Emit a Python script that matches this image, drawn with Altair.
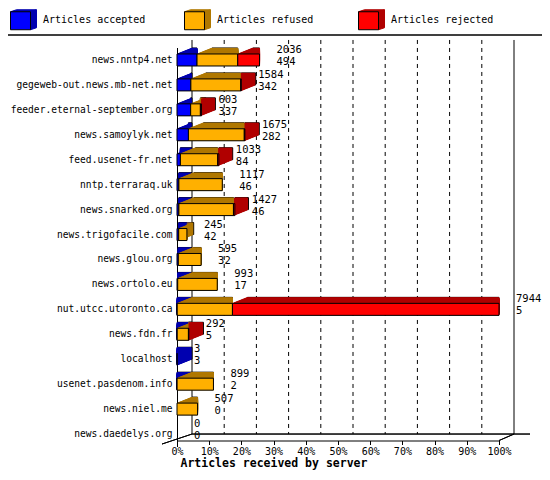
import altair as alt
import pandas as pd

servers = [
    "news.nntp4.net", "gegeweb-out.news.mb-net.net", "feeder.eternal-september.org",
    "news.samoylyk.net", "feed.usenet-fr.net", "nntp.terraraq.uk", "news.snarked.org",
    "news.trigofacile.com", "news.glou.org", "news.ortolo.eu", "nut.utcc.utoronto.ca",
    "news.fdn.fr", "localhost", "usenet.pasdenom.info", "news.niel.me", "news.daedelys.org",
]
total = [2036, 1584, 603, 1675, 1033, 1117, 1427, 245, 595, 993, 7944, 292, 3, 899, 507, 0]
accepted = [494, 342, 337, 282, 84, 46, 46, 42, 32, 17, 5, 5, 3, 2, 0, 0]
refused = [1005, 1230, 240, 1378, 920, 1071, 1347, 203, 563, 976, 1363, 277, 0, 897, 507, 0]
rejected = [537, 12, 26, 15, 29, 0, 34, 0, 0, 0, 6576, 10, 0, 0, 0, 0]

statuses = ["Articles accepted", "Articles refused", "Articles rejected"]
front_colors = ["#0000ff", "#ffb000", "#ff0000"]
dark_colors = ["#0000b0", "#b07800", "#b00000"]
tick_values = [0, 10, 20, 30, 40, 50, 60, 70, 80, 90, 100]

FONT = "DejaVu Sans Mono"
max_total = max(total)

rows = []
for i, s in enumerate(servers):
    start = 0
    for st, vals in zip(statuses, [accepted, refused, rejected]):
        v = vals[i]
        if v > 0:
            rows.append({"server": s, "status": st,
                         "x0": start / max_total * 100, "x1": (start + v) / max_total * 100})
        start += v
seg = pd.DataFrame(rows)

lab = pd.DataFrame({
    "server": servers,
    "pct": [t / max_total * 100 for t in total],
    "tot": [str(t) for t in total],
    "acc": [str(a) for a in accepted],
})
grid_inner = pd.DataFrame({"v": tick_values[1:-1]})
grid_outer = pd.DataFrame({"v": [tick_values[0], tick_values[-1]]})

xs = alt.Scale(domain=[0, 100], nice=False, zero=True)
ys = alt.Scale(domain=servers, paddingInner=0, paddingOuter=0)

xax = alt.Axis(values=tick_values, labelExpr="datum.value + '%'", grid=False,
               domainColor="black", tickColor="black", tickSize=4, offset=-6,
               labelFont=FONT, labelFontSize=10, labelColor="black", labelPadding=2,
               labelFlush=False, labelOverlap=False,
               title="Articles received by server", titleFont=FONT, titleFontSize=11.5,
               titleFontWeight="bold", titleColor="black", titleAnchor="start",
               titleAlign="left", titleX=3, titlePadding=1)
yax = alt.Axis(title=None, ticks=False, grid=False, domainColor="black",
               labelFont=FONT, labelFontSize=9.6, labelColor="black",
               labelPadding=5, labelLimit=300)

X = lambda f: alt.X(f, type="quantitative", scale=xs, axis=xax)
Y = alt.Y("server:N", scale=ys, axis=yax, sort=servers)

y_top = alt.Y(datum=servers[0], type="nominal", scale=ys, axis=yax)
y_bot2 = alt.Y2(datum=servers[-1])

grid_d = alt.Chart(grid_inner).mark_rule(
    color="black", strokeWidth=1, strokeDash=[4, 4], xOffset=15, yOffset=-20
).encode(x=X("v"), y=y_top, y2=y_bot2)
grid_s = alt.Chart(grid_outer).mark_rule(
    color="black", strokeWidth=1, xOffset=15, yOffset=-20
).encode(x=X("v"), y=y_top, y2=y_bot2)

y_floor = alt.Y(datum=servers[-1], type="nominal", scale=ys, axis=yax)
floor_back = alt.Chart(grid_outer).mark_rule(
    color="black", xOffset=15, x2Offset=31
).encode(x=alt.X(datum=0, type="quantitative", scale=xs, axis=xax),
         x2=alt.X2(datum=100), y=y_floor)
diag_r = alt.Chart(grid_outer).mark_rule(
    color="black", yOffset=6.5, x2Offset=15, y2Offset=0
).encode(x=alt.X(datum=100, type="quantitative", scale=xs, axis=xax),
         x2=alt.X2(datum=100), y=y_floor, y2=alt.Y2(datum=servers[-1]))
diag_l = alt.Chart(grid_outer).mark_rule(
    color="black", xOffset=-15, yOffset=10, x2Offset=15, y2Offset=0
).encode(x=alt.X(datum=0, type="quantitative", scale=xs, axis=xax),
         x2=alt.X2(datum=0), y=y_floor, y2=alt.Y2(datum=servers[-1]))

DARK_PATH = ("M-1,-0.615L-0.538,-0.769L1,-0.769L1,0.615L0.538,0.769L0.538,-0.615Z"
             "M0.538,-0.615L1,-0.769")
FRONT_PATH = "M-1,-0.615L0.538,-0.615L0.538,0.769L-1,0.769Z"

def leg(path, show_labels):
    return alt.Legend(title=None, orient="none", legendX=-167, legendY=-41.5,
                      direction="horizontal", columns=3, columnPadding=36,
                      gridAlign="all", padding=0, symbolType=path, symbolSize=676,
                      symbolStrokeColor="black", symbolStrokeWidth=1, symbolOpacity=1,
                      labelFont=FONT, labelFontSize=10, labelColor="black",
                      labelOffset=6, labelOpacity=1 if show_labels else 0)

dark_fill = alt.Fill("status:N", scale=alt.Scale(domain=statuses, range=dark_colors),
                     legend=leg(DARK_PATH, False))
dark_stroke = alt.Stroke("status:N", scale=alt.Scale(domain=statuses, range=dark_colors),
                         legend=None)

K = 15
DX, DY = 15.0, -6.0
ext_layers = []
for k in range(K, 0, -1):
    if k == K:
        m = alt.Chart(seg).mark_bar(size=12, xOffset=DX * k / K, yOffset=DY * k / K,
                                    stroke="black", strokeWidth=1)
        enc = dict(x=X("x0"), x2="x1", y=Y, fill=dark_fill)
    else:
        m = alt.Chart(seg).mark_bar(size=12, xOffset=DX * k / K, yOffset=DY * k / K,
                                    strokeWidth=1)
        enc = dict(x=X("x0"), x2="x1", y=Y, fill=dark_fill, stroke=dark_stroke)
    ext_layers.append(m.encode(**enc))
extrusion = alt.layer(*ext_layers)

front = alt.Chart(seg).mark_bar(size=12, stroke="black", strokeWidth=1).encode(
    x=X("x0"), x2="x1", y=Y,
    fill=alt.Fill("status:N", scale=alt.Scale(domain=statuses, range=front_colors),
                  legend=leg(FRONT_PATH, True)),
)

txt_tot = alt.Chart(lab).mark_text(align="left", baseline="middle", dx=17, dy=-10,
                                   font=FONT, fontSize=10.5, color="black").encode(
    x=X("pct"), y=Y, text="tot:N")
txt_acc = alt.Chart(lab).mark_text(align="left", baseline="middle", dx=17, dy=2,
                                   font=FONT, fontSize=10.5, color="black").encode(
    x=X("pct"), y=Y, text="acc:N")

sep = alt.Chart(grid_outer).mark_rule(color="black", strokeWidth=1).encode(
    x=alt.value(-169), x2=alt.value(365), y=alt.value(-12.5))

chart = alt.layer(
    grid_d, grid_s, floor_back, diag_r, diag_l, extrusion, front, txt_tot, txt_acc, sep
).resolve_scale(fill="independent", stroke="independent").properties(
    width=322, height=399,
    autosize=alt.AutoSizeParams(type="none"),
    padding={"left": 169, "top": 39.5, "right": 43, "bottom": 25.5},
    background="white",
).configure_view(stroke=None)

chart.save("out.html", embed_options={"renderer": "svg", "actions": False})
